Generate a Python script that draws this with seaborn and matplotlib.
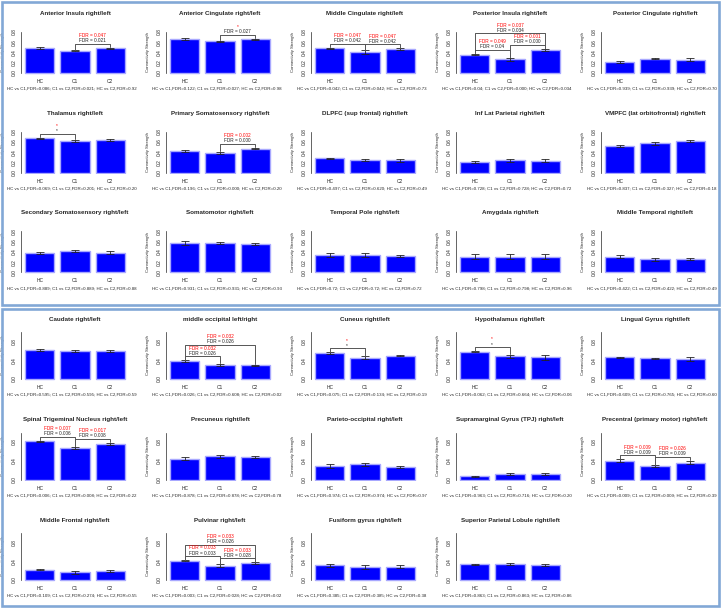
import seaborn as sns
import matplotlib.pyplot as plt
import matplotlib
from matplotlib.patches import Rectangle

sns.set_style("white")
matplotlib.rc("font", family=['Liberation Sans', 'DejaVu Sans'])

# group labels
groups = ["HC", "C1", "C2"]

titles = [
    "Anterior Insula right/left", "Anterior Cingulate right/left", "Middle Cingulate right/left",
    "Posterior Insula right/left", "Posterior Cingulate right/left",
    "Thalamus right/left", "Primary Somatosensory right/left", "DLPFC (sup frontal) right/left",
    "Inf Lat Parietal right/left", "VMPFC (lat orbitofrontal) right/left",
    "Secondary Somatosensory right/left", "Somatomotor right/left", "Temporal Pole right/left",
    "Amygdala right/left", "Middle Temporal right/left",
    "Caudate right/left", "middle occipital left/right", "Cuneus right/left",
    "Hypothalamus right/left", "Lingual Gyrus right/left",
    "Spinal Trigeminal Nucleus right/left", "Precuneus right/left", "Parieto-occipital right/left",
    "Supramarginal Gyrus (TPJ) right/left", "Precentral (primary motor) right/left",
    "Middle Frontal right/left", "Pulvinar right/left", "Fusiform gyrus right/left",
    "Superior Parietal Lobule right/left",
]

# mean connectivity strength
hc_mean = [0.48, 0.66, 0.48, 0.36, 0.21, 0.67, 0.43, 0.28, 0.21, 0.52,
           0.37, 0.57, 0.34, 0.31, 0.31, 0.62, 0.38, 0.55, 0.58, 0.46,
           0.81, 0.44, 0.28, 0.07, 0.40, 0.22, 0.41, 0.31, 0.33]
c1_mean = [0.43, 0.62, 0.41, 0.27, 0.28, 0.62, 0.39, 0.25, 0.24, 0.57,
           0.42, 0.58, 0.34, 0.31, 0.26, 0.60, 0.30, 0.45, 0.48, 0.44,
           0.67, 0.49, 0.32, 0.12, 0.28, 0.16, 0.30, 0.27, 0.34]
c2_mean = [0.48, 0.66, 0.47, 0.45, 0.26, 0.64, 0.47, 0.24, 0.23, 0.61,
           0.38, 0.56, 0.32, 0.31, 0.27, 0.60, 0.29, 0.50, 0.46, 0.42,
           0.76, 0.48, 0.26, 0.12, 0.36, 0.19, 0.36, 0.28, 0.32]

# standard errors
hc_se = [0.02, 0.02, 0.015, 0.015, 0.02, 0.01, 0.02, 0.015, 0.02, 0.02,
         0.02, 0.04, 0.04, 0.04, 0.03, 0.015, 0.02, 0.02, 0.015, 0.015,
         0.015, 0.03, 0.04, 0.01, 0.03, 0.015, 0.015, 0.04, 0.02]
c1_se = [0.01, 0.01, 0.03, 0.03, 0.015, 0.02, 0.02, 0.02, 0.025, 0.025,
         0.02, 0.02, 0.03, 0.04, 0.03, 0.025, 0.02, 0.03, 0.04, 0.015,
         0.03, 0.03, 0.04, 0.02, 0.02, 0.03, 0.03, 0.04, 0.02]
c2_se = [0.015, 0.01, 0.015, 0.02, 0.03, 0.015, 0.015, 0.025, 0.03, 0.02,
         0.03, 0.02, 0.025, 0.04, 0.02, 0.015, 0.015, 0.015, 0.06, 0.04,
         0.02, 0.02, 0.02, 0.02, 0.04, 0.03, 0.015, 0.03, 0.03]

captions = [
    "HC vs C1,FDR=0.086; C1 vs C2,FDR=0.021; HC vs C2,FDR=0.92",
    "HC vs C1,FDR=0.122; C1 vs C2,FDR=0.027; HC vs C2,FDR=0.98",
    "HC vs C1,FDR=0.042; C1 vs C2,FDR=0.042; HC vs C2,FDR=0.73",
    "HC vs C1,FDR=0.04; C1 vs C2,FDR=0.000; HC vs C2,FDR=0.034",
    "HC vs C1,FDR=0.939; C1 vs C2,FDR=0.939; HC vs C2,FDR=0.70",
    "HC vs C1,FDR=0.069; C1 vs C2,FDR=0.201; HC vs C2,FDR=0.20",
    "HC vs C1,FDR=0.196; C1 vs C2,FDR=0.000; HC vs C2,FDR=0.20",
    "HC vs C1,FDR=0.497; C1 vs C2,FDR=0.620; HC vs C2,FDR=0.49",
    "HC vs C1,FDR=0.728; C1 vs C2,FDR=0.728; HC vs C2,FDR=0.72",
    "HC vs C1,FDR=0.837; C1 vs C2,FDR=0.327; HC vs C2,FDR=0.18",
    "HC vs C1,FDR=0.889; C1 vs C2,FDR=0.889; HC vs C2,FDR=0.88",
    "HC vs C1,FDR=0.931; C1 vs C2,FDR=0.931; HC vs C2,FDR=0.93",
    "HC vs C1,FDR=0.72; C1 vs C2,FDR=0.72; HC vs C2,FDR=0.72",
    "HC vs C1,FDR=0.798; C1 vs C2,FDR=0.798; HC vs C2,FDR=0.96",
    "HC vs C1,FDR=0.422; C1 vs C2,FDR=0.422; HC vs C2,FDR=0.49",
    "HC vs C1,FDR=0.595; C1 vs C2,FDR=0.595; HC vs C2,FDR=0.59",
    "HC vs C1,FDR=0.026; C1 vs C2,FDR=0.608; HC vs C2,FDR=0.02",
    "HC vs C1,FDR=0.075; C1 vs C2,FDR=0.134; HC vs C2,FDR=0.19",
    "HC vs C1,FDR=0.062; C1 vs C2,FDR=0.664; HC vs C2,FDR=0.06",
    "HC vs C1,FDR=0.609; C1 vs C2,FDR=0.765; HC vs C2,FDR=0.60",
    "HC vs C1,FDR=0.006; C1 vs C2,FDR=0.008; HC vs C2,FDR=0.22",
    "HC vs C1,FDR=0.878; C1 vs C2,FDR=0.878; HC vs C2,FDR=0.78",
    "HC vs C1,FDR=0.974; C1 vs C2,FDR=0.974; HC vs C2,FDR=0.97",
    "HC vs C1,FDR=0.963; C1 vs C2,FDR=0.716; HC vs C2,FDR=0.20",
    "HC vs C1,FDR=0.009; C1 vs C2,FDR=0.009; HC vs C2,FDR=0.39",
    "HC vs C1,FDR=0.109; C1 vs C2,FDR=0.274; HC vs C2,FDR=0.55",
    "HC vs C1,FDR=0.003; C1 vs C2,FDR=0.028; HC vs C2,FDR=0.02",
    "HC vs C1,FDR=0.385; C1 vs C2,FDR=0.385; HC vs C2,FDR=0.38",
    "HC vs C1,FDR=0.863; C1 vs C2,FDR=0.863; HC vs C2,FDR=0.86",
]

# significance brackets: (plot, group a, group b, red text, black text)
brackets = [
    (0, 1, 2, "FDR = 0.047", "FDR = 0.021"),
    (1, 1, 2, "*", "FDR = 0.027"),
    (2, 0, 1, "FDR = 0.047", "FDR = 0.042"),
    (2, 1, 2, "FDR = 0.047", "FDR = 0.042"),
    (3, 0, 1, "FDR = 0.049", "FDR = 0.04"),
    (3, 1, 2, "FDR = 0.001", "FDR = 0.000"),
    (3, 0, 2, "FDR = 0.037", "FDR = 0.034"),
    (5, 0, 1, "*", "*"),
    (6, 1, 2, "FDR = 0.002", "FDR = 0.000"),
    (16, 0, 1, "FDR = 0.032", "FDR = 0.026"),
    (16, 0, 2, "FDR = 0.032", "FDR = 0.026"),
    (17, 0, 1, "*", "*"),
    (18, 0, 1, "*", "*"),
    (20, 0, 1, "FDR = 0.007", "FDR = 0.006"),
    (20, 1, 2, "FDR = 0.017", "FDR = 0.008"),
    (24, 0, 1, "FDR = 0.009", "FDR = 0.009"),
    (24, 1, 2, "FDR = 0.026", "FDR = 0.009"),
    (26, 0, 1, "FDR = 0.003", "FDR = 0.003"),
    (26, 1, 2, "FDR = 0.033", "FDR = 0.028"),
    (26, 0, 2, "FDR = 0.033", "FDR = 0.026"),
]

W, H = 722, 609
fig = plt.figure(figsize=(W / 100, H / 100), dpi=100)

# panel frames
for top, bot in [(2, 305), (309, 606)]:
    fig.add_artist(Rectangle((2 / W, 1 - bot / H), 717 / W, (bot - top) / H,
                             transform=fig.transFigure, fill=False,
                             edgecolor='#82a8d6', linewidth=1.9))

fs = 3.5
for k in range(len(titles)):
    if k < 15:
        row, col = divmod(k, 5)
        y0 = 73 + 99.7 * row
        ymax, ppu = 0.8, 51.25
        ticklabs = ['0.0', '0.2', '0.4', '0.6', '0.8']
    else:
        row, col = divmod(k - 15, 5)
        y0 = 379 + 100.5 * row
        ymax, ppu = 1.0, 47.0
        ticklabs = ['0.0', '', '0.4', '', '0.8', '']
    ext = 0.04 * ymax
    left = 21 + 145 * col
    bottom = y0 + ext * ppu
    height = (ymax + 2 * ext) * ppu
    ax = fig.add_axes([left / W, 1 - bottom / H, 108 / W, height / H])

    vals = [hc_mean[k], c1_mean[k], c2_mean[k]]
    errs = [hc_se[k], c1_se[k], c2_se[k]]
    sns.barplot(x=groups, y=vals, ax=ax, color='#0000ff', saturation=1,
                width=1 / 1.2, edgecolor='#a8a8ff', linewidth=1.0, errorbar=None)
    ax.errorbar(range(3), vals, yerr=errs, fmt='none', ecolor='#222222',
                elinewidth=0.6, capsize=2.8, capthick=0.6)

    ax.set_xlim(-0.53, 2.53)
    ax.set_ylim(-ext, ymax + ext)
    ticks = [i * 0.2 for i in range(len(ticklabs))]
    ax.set_yticks(ticks)
    ax.set_yticklabels(ticklabs)
    for s in ['top', 'right', 'bottom']:
        ax.spines[s].set_visible(False)
    ax.spines['left'].set_bounds(0, ymax)
    ax.spines['left'].set_linewidth(0.5)
    ax.tick_params(axis='y', length=2, width=0.5, labelsize=fs, pad=1,
                   labelrotation=90)
    for lab in ax.get_yticklabels():
        lab.set_va('center')
    ax.tick_params(axis='x', length=0, labelsize=fs, pad=3)
    ax.set_xlabel('')
    ax.set_ylabel('Connectivity Strength', fontsize=3.1)
    ax.yaxis.set_label_coords(-0.145, 0.5)
    ax.set_facecolor('none')

    fig.text((left + 54) / W, 1 - (y0 - 59.5) / H, titles[k], ha='center',
             va='center', fontsize=4.5, fontweight='bold')
    fig.text((left - 14) / W, 1 - (y0 + 16) / H, captions[k], ha='left',
             va='center', fontsize=3.2)

    # brackets: adjacent pairs first, the HC-C2 one stacked above them
    tops = [v + e for v, e in zip(vals, errs)]
    gap, stack = 4.0 / ppu, 11.5 / ppu
    mine = sorted([q for q in brackets if q[0] == k], key=lambda q: q[2] - q[1])
    heights = []
    for p, a, b, red, black in mine:
        h = max(tops[a:b + 1]) + gap
        if b - a == 2 and heights:
            h = max(heights) + stack
        heights.append(h)
        ax.plot([a, a, b, b], [tops[a] + 0.01, h, h, tops[b] + 0.01],
                color='#555555', lw=0.7, clip_on=False)
        mid = (a + b) / 2
        ax.annotate(black, xy=(mid, h), xytext=(0, 0.3), textcoords='offset points',
                    ha='center', va='bottom', fontsize=3.4, color='#222222',
                    annotation_clip=False)
        ax.annotate(red, xy=(mid, h), xytext=(0, 4.0), textcoords='offset points',
                    ha='center', va='bottom', fontsize=3.4, color='#ff0000',
                    annotation_clip=False)

plt.savefig('out.png', dpi=100)
